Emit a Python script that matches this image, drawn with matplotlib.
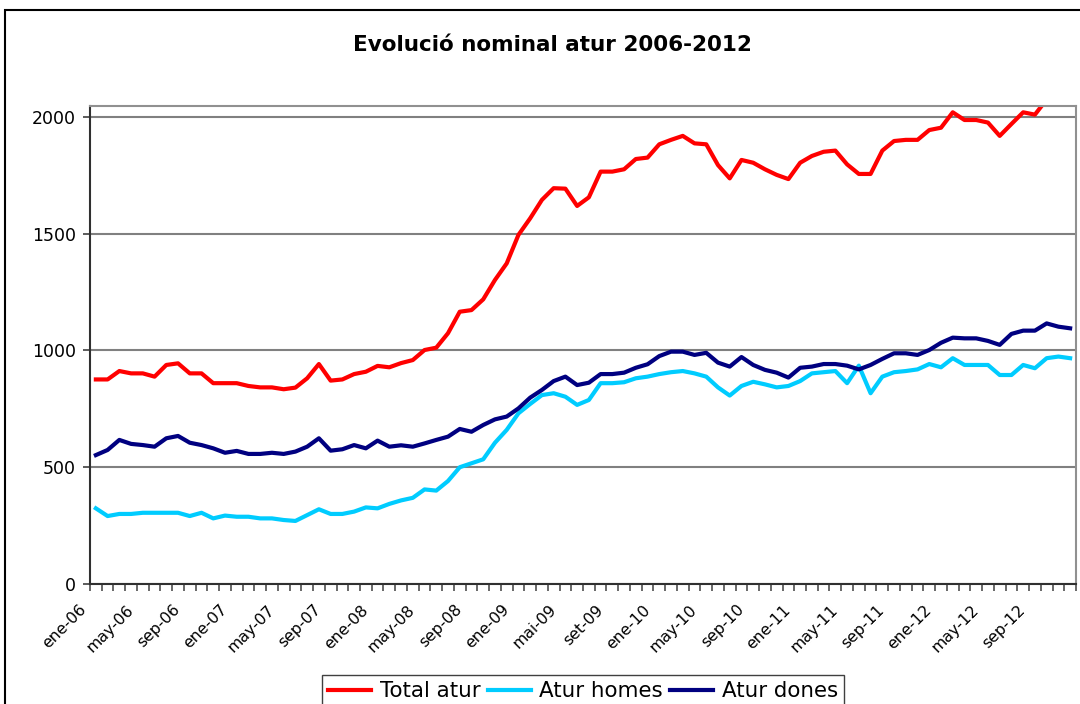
import numpy as np
import matplotlib
matplotlib.use('Agg')
import matplotlib.pyplot as plt
import matplotlib.transforms as mtransforms
from matplotlib.patches import Rectangle

##########################################################
# Data (monthly, ene-06 .. dic-12)
##########################################################

total_atur = [876, 876, 912, 902, 902, 888, 938, 945, 902, 902, 860, 860,
              860, 848, 842, 842, 834, 841, 881, 942, 871, 876, 899, 909,
              934, 928, 946, 959, 1002, 1012, 1074, 1166, 1173, 1219, 1302, 1373,
              1495, 1566, 1645, 1695, 1693, 1619, 1656, 1766, 1766, 1776, 1820, 1826,
              1883, 1902, 1919, 1887, 1883, 1794, 1737, 1816, 1804, 1776, 1752, 1734,
              1804, 1833, 1851, 1856, 1797, 1756, 1756, 1856, 1897, 1902, 1902, 1944,
              1954, 2020, 1987, 1987, 1976, 1919, 1970, 2020, 2010, 2075, 2110, 2120]

atur_homes = [324, 291, 300, 300, 305, 305, 305, 305, 291, 305, 281, 293,
              288, 288, 281, 281, 274, 270, 295, 320, 300, 300, 310, 328,
              324, 343, 358, 369, 405, 400, 441, 500, 517, 534, 605, 660,
              731, 771, 809, 817, 802, 767, 788, 860, 860, 864, 881, 888,
              899, 907, 912, 902, 888, 842, 807, 848, 866, 855, 842, 848,
              869, 902, 907, 912, 860, 935, 817, 888, 907, 912, 919, 942,
              928, 967, 938, 938, 938, 895, 895, 938, 924, 967, 974, 967]

atur_dones = [552, 574, 617, 600, 595, 588, 624, 634, 605, 595, 581, 562,
              570, 557, 557, 562, 557, 567, 588, 624, 571, 577, 595, 581,
              614, 588, 594, 588, 602, 617, 631, 664, 652, 681, 705, 717,
              752, 798, 831, 869, 888, 852, 862, 899, 899, 905, 926, 941,
              976, 995, 995, 981, 990, 948, 931, 972, 938, 917, 905, 884,
              926, 931, 942, 942, 935, 919, 938, 964, 988, 988, 981, 1002,
              1033, 1055, 1052, 1052, 1041, 1024, 1071, 1085, 1085, 1116, 1102, 1095]

tick_labels = ['ene-06', 'may-06', 'sep-06', 'ene-07', 'may-07', 'sep-07',
               'ene-08', 'may-08', 'sep-08', 'ene-09', 'mai-09', 'set-09',
               'ene-10', 'may-10', 'sep-10', 'ene-11', 'may-11', 'sep-11',
               'ene-12', 'may-12', 'sep-12']

series_names = ['Total atur', 'Atur homes', 'Atur dones']
colors = ['#FF0000', '#00CCFF', '#000080']

##########################################################
# Figure
##########################################################

fig = plt.figure(figsize=(10.8, 7.04), dpi=100, facecolor='white')
ax = fig.add_axes([90/1080, 1 - 584/704, 986/1080, 478/704])

x = np.arange(len(total_atur))
for vals, name, col in zip([total_atur, atur_homes, atur_dones], series_names, colors):
    ax.plot(x, vals, color=col, lw=3, label=name)

ax.set_xlim(-0.5, len(total_atur) - 0.5)
ax.set_ylim(0, 2047)

# y axis
ax.set_yticks([0, 500, 1000, 1500, 2000])
ax.tick_params(axis='y', length=5, width=1.2, pad=5, labelsize=12.5, color='#404040')
ax.grid(axis='y', color='#808080', lw=1.5)
ax.set_axisbelow(True)

# x axis: monthly ticks between categories, labels every 4 months
ax.set_xticks(np.arange(0, len(total_atur), 4))
ax.set_xticklabels(tick_labels, rotation=45, ha='right', va='top',
                   rotation_mode='anchor', fontsize=11.3)
ax.set_xticks(np.arange(-0.5, len(total_atur), 1), minor=True)
ax.tick_params(axis='x', which='major', length=0, pad=13)
ax.tick_params(axis='x', which='minor', length=5, width=1.1, color='#404040')
offset = mtransforms.ScaledTranslation(-0.17, 0, fig.dpi_scale_trans)
for lab in ax.get_xticklabels():
    lab.set_transform(lab.get_transform() + offset)

for side in ['left', 'bottom']:
    ax.spines[side].set_color('#303030')
    ax.spines[side].set_linewidth(1.5)
for side in ['top', 'right']:
    ax.spines[side].set_color('#909090')
    ax.spines[side].set_linewidth(1.5)

# Title
fig.text(552/1080, 1 - 45/704, 'Evolució nominal atur 2006-2012',
         ha='center', va='center', fontsize=15.5, fontweight='bold')

# Legend
fig.legend(loc='upper left', bbox_to_anchor=(322/1080, 1 - 675/704), ncol=3,
           borderaxespad=0, fontsize=15.4, handlelength=2.0, handletextpad=0.4,
           columnspacing=0.35, frameon=True, fancybox=False, framealpha=1,
           edgecolor='#404040', borderpad=0.3)

# Outer chart frame
fig.add_artist(Rectangle((5/1080, -0.2), 1.2, 1.2 - 10/704, transform=fig.transFigure,
                         fill=False, ec='black', lw=1.5))

fig.savefig('out.png', dpi=100)
